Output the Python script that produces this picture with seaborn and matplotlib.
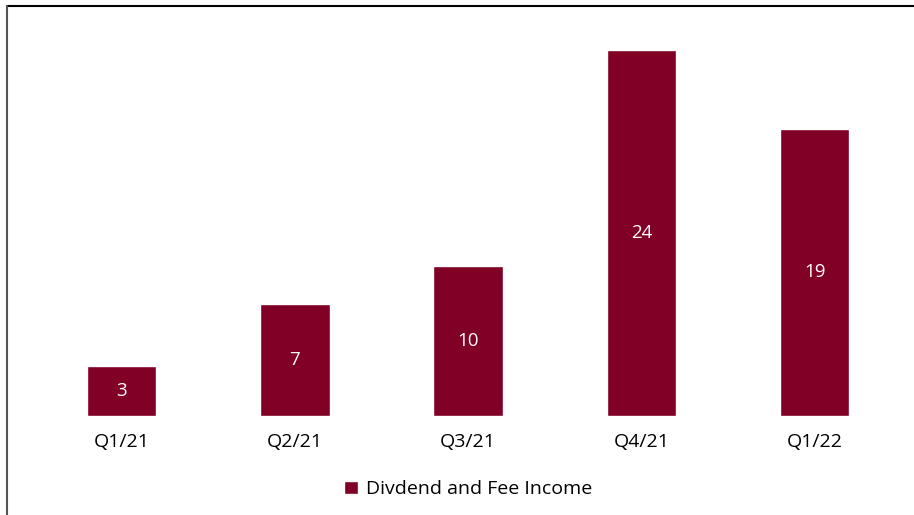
import matplotlib
matplotlib.use("Agg")
import matplotlib.pyplot as plt
import seaborn as sns
import pandas as pd
from matplotlib.lines import Line2D

quarters = ["Q1/21", "Q2/21", "Q3/21", "Q4/21", "Q1/22"]
income = [3.3, 7.4, 9.9, 24.1, 18.9]
bar_labels = ["3", "7", "10", "24", "19"]
series_name = "Divdend and Fee Income"

bar_color = "#800026"

sns.set_theme(style="white")
plt.rcParams["font.family"] = ["Open Sans", "DejaVu Sans"]

df = pd.DataFrame({"quarter": quarters, "income": income, "series": series_name})

fig = plt.figure(figsize=(9.14, 5.15), dpi=100)
ax = fig.add_axes([0.0383, 0.1922, 0.9477, 0.767])

sns.barplot(data=df, x="quarter", y="income", hue="series", palette=[bar_color],
            width=0.4, saturation=1, ax=ax, legend=True)

for cont in ax.containers:
    ax.bar_label(cont, labels=bar_labels, label_type="center", color="white", fontsize=13.5)

ax.set_ylim(0, 26)
ax.set_xlim(-0.5, 4.5)
ax.set_xlabel("")
ax.set_ylabel("")
ax.set_yticks([])
ax.tick_params(axis="x", labelsize=14, length=0, pad=12, colors="#000000")
sns.despine(ax=ax, left=True, bottom=True)

leg = ax.legend(loc="upper center", bbox_to_anchor=(0.5, -0.118), frameon=False,
                fontsize=14, handlelength=0.7, handleheight=0.7, handletextpad=0.4)
for t in leg.get_texts():
    t.set_color("black")

# thin frame around the figure (top and left visible)
fig.add_artist(Line2D([0.0077, 1.0], [0.9874, 0.9874], color="black", lw=1.5,
                      transform=fig.transFigure))
fig.add_artist(Line2D([0.0077, 0.0077], [0.0, 0.9874], color="#555555", lw=1.5,
                      transform=fig.transFigure))

fig.savefig("out.png", dpi=100)
